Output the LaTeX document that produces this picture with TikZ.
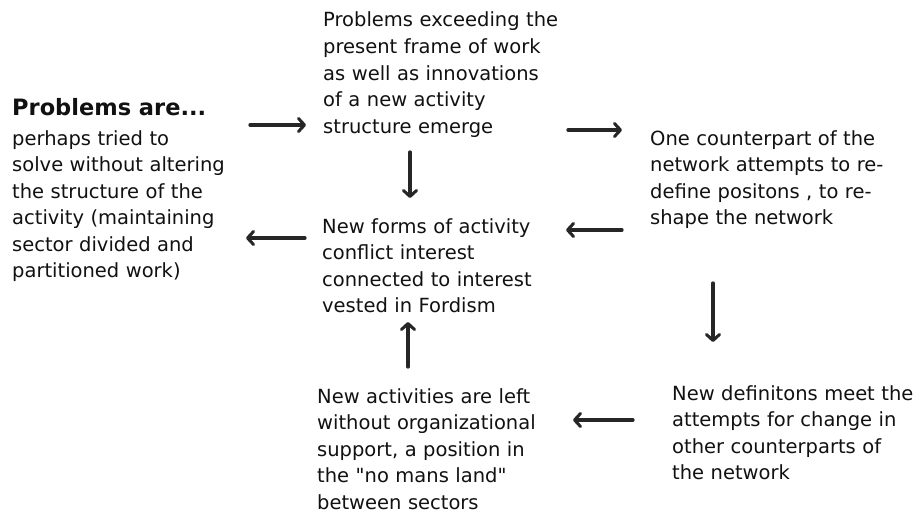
\documentclass[tikz,border=0pt]{standalone}
\usepackage{fontspec}
\setmainfont{DejaVu Sans}[Ligatures=TeXOff]
\usetikzlibrary{arrows.meta}
\definecolor{ink}{HTML}{111111}
\definecolor{arrowink}{HTML}{262626}
\tikzset{
  txt/.style={anchor=base west, inner sep=0pt, text width=280pt, align=left, text=ink,
    font=\fontsize{19.5}{26.5}\selectfont},
  hdr/.style={anchor=base west, inner sep=0pt, text=ink, font=\bfseries\fontsize{22.5}{26}\selectfont},
  arr/.style={draw=arrowink, line width=3.3pt, line cap=round,
    -{Straight Barb[length=6pt,width=13pt,line width=3pt,round]}}
}
\begin{document}
\begin{tikzpicture}[x=1pt,y=-1pt]
\useasboundingbox[fill=white] (0,0) rectangle (920,514);
% texts
\node[hdr] (head) at (12,115) {Problems are...};
\node[txt] (left) at (12,145) {perhaps tried to\\solve without altering\\the structure of the\\activity (maintaining\\sector divided and\\partitioned work)};
\node[txt] (top) at (323,27) {Problems exceeding the\\present frame of work\\as well as innovations\\of a new activity\\structure emerge};
\node[txt] (tr) at (650,145) {One counterpart of the\\network attempts to re-\\define positons , to re-\\shape the network};
\node[txt] (mid) at (322,233) {New forms of activity\\conflict interest\\connected to interest\\vested in Fordism};
\node[txt] (bc) at (317,403) {New activities are left\\without organizational\\support, a position in\\the "no mans land"\\between sectors};
\node[txt] (br) at (672,400) {New definitons meet the\\attempts for change in\\other counterparts of\\the network};
% arrow end points
\coordinate (a1s) at (250,125); \coordinate (a1e) at (306,125);
\coordinate (a2s) at (305,238); \coordinate (a2e) at (246,238);
\coordinate (a3s) at (410,152); \coordinate (a3e) at (410,198);
\coordinate (a4s) at (568,130); \coordinate (a4e) at (622,130);
\coordinate (a5s) at (622,230); \coordinate (a5e) at (566,230);
\coordinate (a6s) at (713,283); \coordinate (a6e) at (713,342);
\coordinate (a7s) at (633,420); \coordinate (a7e) at (573,420);
\coordinate (a8s) at (408,367); \coordinate (a8e) at (408,322);
\draw[arr] (a1s) -- (a1e);
\draw[arr] (a2s) -- (a2e);
\draw[arr] (a3s) -- (a3e);
\draw[arr] (a4s) -- (a4e);
\draw[arr] (a5s) -- (a5e);
\draw[arr] (a6s) -- (a6e);
\draw[arr] (a7s) -- (a7e);
\draw[arr] (a8s) -- (a8e);
\end{tikzpicture}
\end{document}
